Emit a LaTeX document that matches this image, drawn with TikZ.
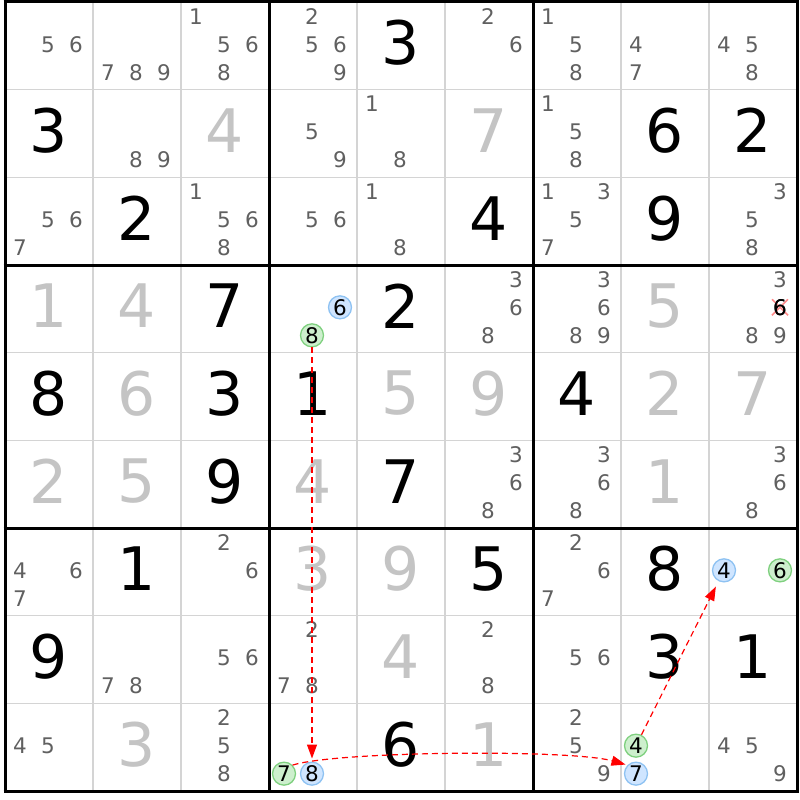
\documentclass[tikz,border=0pt]{standalone}
\usepackage{fontspec}
\setmainfont{DejaVu Sans}
\usetikzlibrary{arrows.meta}
\definecolor{candgrey}{HTML}{606060}
\definecolor{solvedgrey}{HTML}{C4C4C4}
\definecolor{thingrey}{HTML}{D4D4D4}
\definecolor{gfill}{HTML}{CDEFCD}
\definecolor{gline}{HTML}{7FD07F}
\definecolor{bfill}{HTML}{CFE5FF}
\definecolor{bline}{HTML}{8EC2F2}
\definecolor{xred}{HTML}{FF8A8A}
\newcommand\candat[4][cand]{%
  \pgfmathtruncatemacro\kcol{mod(#4-1,3)}%
  \pgfmathtruncatemacro\krow{(#4-1)/3}%
  \node[#1] (k#2#3#4) at ({5+88*(#3-0.5)-1+(\kcol-1)*28},{2+87.667*(#2-0.5)-1.5+(\krow-1)*28}) {#4};}
\newcommand\cellcands[3]{\foreach \dd in {#3}{\candat{#1}{#2}{\dd}}}
\newcommand\bigd[4][given]{\node[#1] (g#2#3) at ({5+88*(#3-0.5)},{2+87.667*(#2-0.5)-3}) {#4};}
\begin{document}
\begin{tikzpicture}[x=1pt,y=-1pt,
  cand/.style={inner sep=0pt,text=candgrey,font=\fontsize{21.5}{21.5}\selectfont},
  candgreen/.style={cand,text=black,circle,draw=gline,fill=gfill,line width=1.3pt,minimum size=23pt},
  candblue/.style={cand,text=black,circle,draw=bline,fill=bfill,line width=1.3pt,minimum size=23pt},
  candx/.style={cand,text=black},
  given/.style={inner sep=0pt,text=black,font=\fontsize{60}{60}\selectfont},
  solved/.style={given,text=solvedgrey},
  thin/.style={draw=thingrey,line width=1.6pt},
  thick/.style={draw=black,line width=3pt},
  xmark/.style={draw=xred,line width=1.6pt},
  arr/.style={draw=red,line width=1.2pt,dash pattern=on 6pt off 4pt,-{Triangle[length=14pt,width=10pt]}}]
\useasboundingbox (0,0) rectangle (800,800);
\fill[white] (0,0) rectangle (800,800);
% grid
\foreach \i in {1,2,4,5,7,8}{
  \draw[thin] ({5+88*\i},2) -- ({5+88*\i},791);
  \draw[thin] (5,{2+87.667*\i}) -- (797,{2+87.667*\i});
}
\foreach \i in {0,3,6,9}{
  \draw[thick] ({5+88*\i},0.5) -- ({5+88*\i},792.5);
  \draw[thick] (3.5,{2+87.667*\i}) -- (798.5,{2+87.667*\i});
}
% row 1
\cellcands{1}{1}{5,6}
\cellcands{1}{2}{7,8,9}
\cellcands{1}{3}{1,5,6,8}
\cellcands{1}{4}{2,5,6,9}
\bigd{1}{5}{3}
\cellcands{1}{6}{2,6}
\cellcands{1}{7}{1,5,8}
\cellcands{1}{8}{4,7}
\cellcands{1}{9}{4,5,8}
% row 2
\bigd{2}{1}{3}
\cellcands{2}{2}{8,9}
\bigd[solved]{2}{3}{4}
\cellcands{2}{4}{5,9}
\cellcands{2}{5}{1,8}
\bigd[solved]{2}{6}{7}
\cellcands{2}{7}{1,5,8}
\bigd{2}{8}{6}
\bigd{2}{9}{2}
% row 3
\cellcands{3}{1}{5,6,7}
\bigd{3}{2}{2}
\cellcands{3}{3}{1,5,6,8}
\cellcands{3}{4}{5,6}
\cellcands{3}{5}{1,8}
\bigd{3}{6}{4}
\cellcands{3}{7}{1,3,5,7}
\bigd{3}{8}{9}
\cellcands{3}{9}{3,5,8}
% row 4
\bigd[solved]{4}{1}{1}
\bigd[solved]{4}{2}{4}
\bigd{4}{3}{7}
\candat[candblue]{4}{4}{6}
\candat[candgreen]{4}{4}{8}
\bigd{4}{5}{2}
\cellcands{4}{6}{3,6,8}
\cellcands{4}{7}{3,6,8,9}
\bigd[solved]{4}{8}{5}
\cellcands{4}{9}{3,8,9}
\candat[candx]{4}{9}{6}
\draw[xmark] ([shift={(-8,-8)}]k496.center) -- ([shift={(8,8)}]k496.center);
\draw[xmark] ([shift={(-8,8)}]k496.center) -- ([shift={(8,-8)}]k496.center);
\node[candx] at (k496) {6};
% row 5
\bigd{5}{1}{8}
\bigd[solved]{5}{2}{6}
\bigd{5}{3}{3}
\bigd{5}{4}{1}
\bigd[solved]{5}{5}{5}
\bigd[solved]{5}{6}{9}
\bigd{5}{7}{4}
\bigd[solved]{5}{8}{2}
\bigd[solved]{5}{9}{7}
% row 6
\bigd[solved]{6}{1}{2}
\bigd[solved]{6}{2}{5}
\bigd{6}{3}{9}
\bigd[solved]{6}{4}{4}
\bigd{6}{5}{7}
\cellcands{6}{6}{3,6,8}
\cellcands{6}{7}{3,6,8}
\bigd[solved]{6}{8}{1}
\cellcands{6}{9}{3,6,8}
% row 7
\cellcands{7}{1}{4,6,7}
\bigd{7}{2}{1}
\cellcands{7}{3}{2,6}
\bigd[solved]{7}{4}{3}
\bigd[solved]{7}{5}{9}
\bigd{7}{6}{5}
\cellcands{7}{7}{2,6,7}
\bigd{7}{8}{8}
\candat[candblue]{7}{9}{4}
\candat[candgreen]{7}{9}{6}
% row 8
\bigd{8}{1}{9}
\cellcands{8}{2}{7,8}
\cellcands{8}{3}{5,6}
\cellcands{8}{4}{2,7,8}
\bigd[solved]{8}{5}{4}
\cellcands{8}{6}{2,8}
\cellcands{8}{7}{5,6}
\bigd{8}{8}{3}
\bigd{8}{9}{1}
% row 9
\cellcands{9}{1}{4,5}
\bigd[solved]{9}{2}{3}
\cellcands{9}{3}{2,5,8}
\candat[candgreen]{9}{4}{7}
\candat[candblue]{9}{4}{8}
\bigd{9}{5}{6}
\bigd[solved]{9}{6}{1}
\cellcands{9}{7}{2,5,9}
\candat[candgreen]{9}{8}{4}
\candat[candblue]{9}{8}{7}
\cellcands{9}{9}{4,5,9}
% chain arrows
\draw[arr,shorten >=3pt] (k448) -- (k948);
\draw[arr,shorten >=2pt] (k947.north east) .. controls +(44,-14) and +(-57,-16) .. (k987.north west);
\draw[arr,shorten >=6pt] (k984) -- (k794);
\end{tikzpicture}
\end{document}
